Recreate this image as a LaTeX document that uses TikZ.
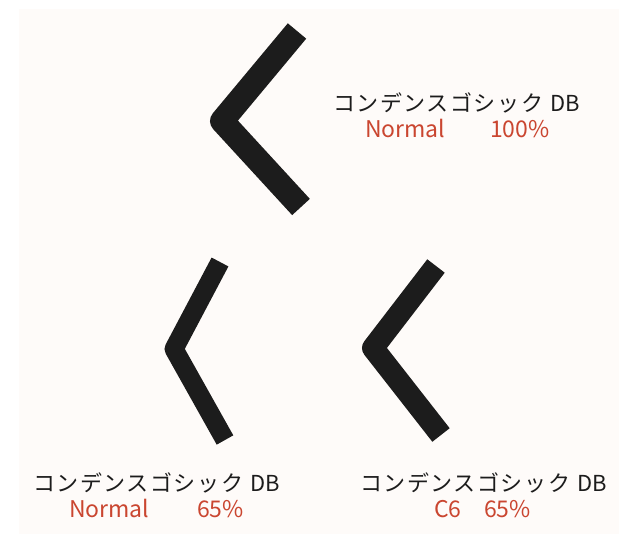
\documentclass[tikz,border=0pt]{standalone}
\usepackage{fontspec}
\setmainfont{Noto Sans CJK JP}
\newfontfamily\jpfont[LetterSpace=7]{Noto Sans CJK JP}
\definecolor{paper}{RGB}{254,251,249}
\definecolor{ink}{RGB}{28,28,28}
\definecolor{tagred}{RGB}{202,70,48}
\newcommand{\kname}{{\jpfont コンデンスゴシック}\hspace{0.35em}DB}
\tikzset{
  kstroke/.style={draw=ink,line join=round,line cap=butt},
  fontname/.style={inner sep=0pt,anchor=base west,text=ink,font=\fontsize{22}{26}\selectfont},
  setting/.style={inner sep=0pt,anchor=base west,text=tagred,font=\fontsize{23}{27}\selectfont}
}
\begin{document}
\begin{tikzpicture}[x=1pt,y=-1pt]
      \useasboundingbox (0,0) rectangle (619,534);
      \fill[paper] (19,9) rectangle (619,534);
      % the three ku glyphs
      \draw[kstroke,line width=24pt] (297,31) -- (222,121) -- (301,207);
      \draw[kstroke,line width=19pt] (220,262) -- (174,349) -- (225,440);
      \draw[kstroke,line width=22pt] (436,266) -- (373,348) -- (441,435);
      % labels
      \draw
        (333,112) node[fontname] (top){\kname}
        (365,138) node[setting] (topmode){Normal}
        (490,138) node[setting] (topsize){100\%}
        (33,492) node[fontname] (left){\kname}
        (69,518) node[setting] (leftmode){Normal}
        (197,518) node[setting] (leftsize){65\%}
        (360,492) node[fontname] (right){\kname}
        (434,518) node[setting] (rightmode){C6}
        (484,518) node[setting] (rightsize){65\%};
    \end{tikzpicture}
\end{document}
